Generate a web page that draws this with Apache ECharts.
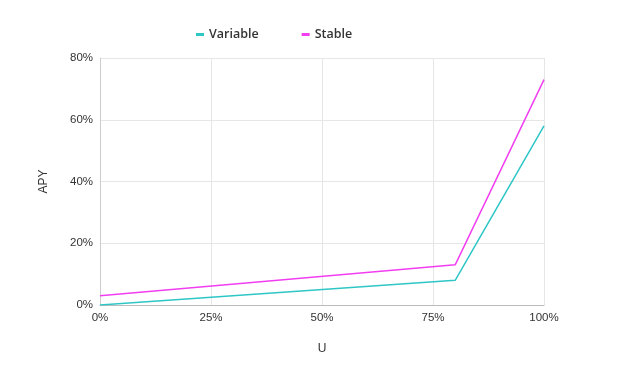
<!DOCTYPE html>
<html><head><meta charset="utf-8">
<script src="https://cdn.jsdelivr.net/npm/echarts@6/dist/echarts.min.js"></script>
<style>html,body{margin:0;padding:0;background:#fff}#c{width:624px;height:370px}</style>
</head><body><div id="c"></div>
<script>
const utilization = [0, 80, 100];
const variableApy = [0, 8, 58];
const stableApy = [3, 13, 73];
const seriesNames = ['Variable', 'Stable'];

const chart = echarts.init(document.getElementById('c'), null, {renderer: 'canvas'});
chart.setOption({
  animation: false,
  color: ['#2fc6c6', '#f13ef1'],
  legend: {
    top: 23, left: 191,
    itemWidth: 8, itemHeight: 3, itemGap: 43,
    icon: 'rect',
    textStyle: {color: '#333', fontFamily: 'Open Sans, sans-serif', fontSize: 12.5, fontWeight: 600},
    data: seriesNames
  },
  grid: {left: 100, right: 80, top: 58, bottom: 65},
  xAxis: {
    type: 'value', min: 0, max: 100, interval: 25,
    name: 'U', nameLocation: 'middle', nameGap: 38,
    nameTextStyle: {color: '#333', fontSize: 12, fontFamily: 'Liberation Sans, Arial, sans-serif'},
    axisLine: {show: true, lineStyle: {color: '#bbb'}},
    axisTick: {show: false},
    axisLabel: {color: '#333', fontSize: 11.5, fontFamily: 'Liberation Sans, Arial, sans-serif', formatter: v => v + '%', margin: 7},
    splitLine: {show: true, lineStyle: {color: '#e6e6e6'}}
  },
  yAxis: {
    type: 'value', min: 0, max: 80, interval: 20,
    name: 'APY', nameLocation: 'middle', nameGap: 50, nameRotate: 90,
    nameTextStyle: {color: '#333', fontSize: 12, fontFamily: 'Liberation Sans, Arial, sans-serif'},
    axisLine: {show: true, lineStyle: {color: '#ccc'}},
    axisTick: {show: false},
    axisLabel: {color: '#333', fontSize: 11.5, fontFamily: 'Liberation Sans, Arial, sans-serif', formatter: v => v + '%', margin: 7},
    splitLine: {show: true, lineStyle: {color: '#e6e6e6'}}
  },
  series: [
    {name: seriesNames[0], type: 'line', showSymbol: false, lineStyle: {width: 1.5},
     data: utilization.map((u, i) => [u, variableApy[i]])},
    {name: seriesNames[1], type: 'line', showSymbol: false, lineStyle: {width: 1.5},
     data: utilization.map((u, i) => [u, stableApy[i]])}
  ]
});
</script></body></html>
